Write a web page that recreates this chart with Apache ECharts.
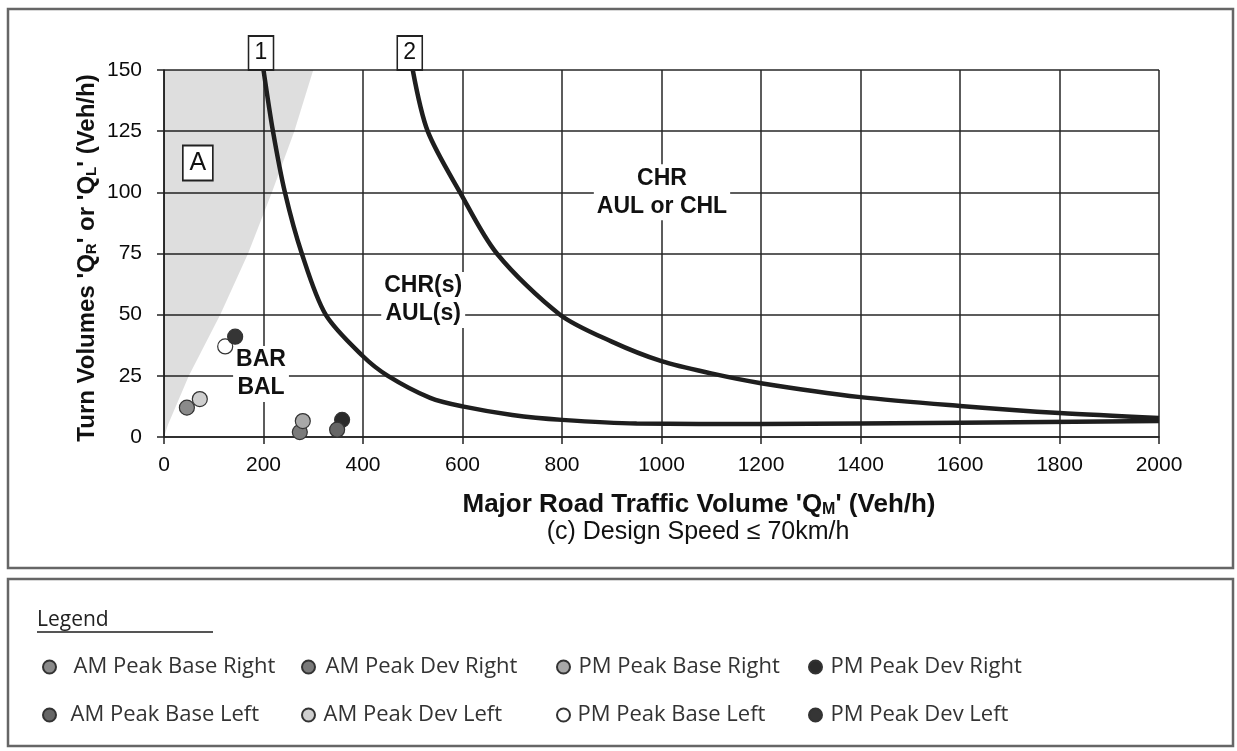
<!DOCTYPE html>
<html>
<head>
<meta charset="utf-8">
<script src="https://cdn.jsdelivr.net/npm/echarts@6/dist/echarts.min.js"></script>
<style>
html,body{margin:0;padding:0;background:#fff;}
#chart{width:1237px;height:751px;}
</style>
</head>
<body>
<div id="chart"></div>
<script>
// ---- data ----
const xTicks = [0, 200, 400, 600, 800, 1000, 1200, 1400, 1600, 1800, 2000];
const yTicks = [0, 25, 50, 75, 100, 125, 150];

// boundary of shaded zone "A" (x, y)
const shadeX = [0, 8, 50, 113, 169, 217, 262, 300, 0];
const shadeY = [0, 5, 25, 50, 75, 100, 125, 150, 150];

// curve 1 (CHR(s)/AUL(s) boundary)
const curve1X = [200, 219, 243, 277, 325, 400, 450, 535, 600, 700, 800, 950, 1200, 1600, 2000];
const curve1Y = [150, 125, 100, 75, 50, 33, 25, 16, 12.5, 9, 7, 5.5, 5.3, 5.8, 6.5];

// curve 2 (CHR / AUL or CHL boundary)
const curve2X = [500, 530, 595, 669, 796, 900, 1000, 1100, 1200, 1400, 1600, 1800, 2000];
const curve2Y = [150, 125, 100, 75, 50, 39, 31, 26, 22, 16.3, 12.7, 9.8, 7.8];

// observed points
const seriesNames = ['AM Peak Base Right', 'AM Peak Dev Right', 'PM Peak Base Right', 'PM Peak Dev Right',
                     'AM Peak Base Left', 'AM Peak Dev Left', 'PM Peak Base Left', 'PM Peak Dev Left'];
const pointX = [46, 273, 279, 358, 348, 72, 123, 143];
const pointY = [12, 2, 6.5, 7, 3, 15.5, 37, 41];
const pointColors = ['#8a8a8a', '#7a7a7a', '#a8a8a8', '#2b2b2b', '#666666', '#cfcfcf', '#ffffff', '#353535'];

// region annotations
const zoneLabels = ['BAR\nBAL', 'CHR(s)\nAUL(s)', 'CHR\nAUL or CHL'];
const zoneX = [195, 521, 1001];
const zoneY = [25.7, 56, 100];

const boxLabels = ['1', '2', 'A'];
const boxX = [195, 494, 68];
const boxY = [150, 150, 112];

// ---- chart ----
const chart = echarts.init(document.getElementById('chart'));
const FONT = '"Liberation Sans", Arial, sans-serif';

const pointSeries = seriesNames.map((n, i) => ({
  name: n,
  type: 'scatter',
  data: [[pointX[i], pointY[i]]],
  symbol: 'circle',
  symbolSize: 15,
  itemStyle: { color: pointColors[i], borderColor: '#333', borderWidth: 1.2, opacity: 1 },
  z: 5
}));

// legend positions (layout): [left, top, extra text gap]
const legPos = [[42, 656, 12.5], [301, 656, 5.5], [556, 656, 3.5], [808, 656, 3.5],
                [42, 704, 9.5], [301, 704, 3.5], [556, 704, 2.5], [808, 704, 3.5]];
const legends = seriesNames.map((n, i) => ({
  data: [n],
  left: legPos[i][0],
  top: legPos[i][1],
  padding: 0,
  itemWidth: 13,
  itemHeight: 13,
  selectedMode: false,
  textStyle: { fontFamily: '"Open Sans", sans-serif', fontSize: 22, color: '#333', padding: [0, 0, 0, legPos[i][2]] }
}));

const option = {
  animation: false,
  backgroundColor: '#fff',
  grid: { left: 164, right: 78, top: 70, bottom: 314, containLabel: false },
  legend: legends,
  xAxis: {
    type: 'value', min: 0, max: 2000, interval: 200,
    axisLine: { show: true, onZero: false, lineStyle: { color: '#222', width: 1.5 } },
    axisTick: { show: true, inside: false, length: 7, lineStyle: { color: '#222', width: 1.5 } },
    splitLine: { show: true, lineStyle: { color: '#262626', width: 1.5 } },
    axisLabel: { margin: 18, fontFamily: FONT, fontSize: 21, color: '#0a0a0a',
      formatter: v => xTicks.includes(v) ? String(v) : '' }
  },
  yAxis: {
    type: 'value', min: 0, max: 150, interval: 25,
    axisLine: { show: true, lineStyle: { color: '#222', width: 1.5 } },
    axisTick: { show: true, inside: false, length: 7, lineStyle: { color: '#222', width: 1.5 } },
    splitLine: { show: true, lineStyle: { color: '#262626', width: 1.5 } },
    axisLabel: { margin: 22, fontFamily: FONT, fontSize: 21, color: '#0a0a0a',
      formatter: v => yTicks.includes(v) ? String(v) : '' }
  },
  series: [
    {
      type: 'custom',
      name: 'zoneA',
      data: [[0, 0]],
      silent: true,
      z: 1,
      renderItem: function (params, api) {
        const pts = shadeX.map((x, i) => api.coord([x, shadeY[i]]));
        return { type: 'polygon', shape: { points: pts }, style: { fill: 'rgba(0,0,0,0.13)' } };
      }
    },
    {
      type: 'line', name: 'curve1',
      data: curve1X.map((x, i) => [x, curve1Y[i]]),
      smooth: 0.3, showSymbol: false, symbol: 'none',
      lineStyle: { color: '#1e1e1e', width: 4.5 }, z: 4, silent: true
    },
    {
      type: 'line', name: 'curve2',
      data: curve2X.map((x, i) => [x, curve2Y[i]]),
      smooth: 0.3, showSymbol: false, symbol: 'none',
      lineStyle: { color: '#1e1e1e', width: 4.5 }, z: 4, silent: true
    },
    {
      type: 'scatter', name: 'zones',
      data: zoneX.map((x, i) => ({ value: [x, zoneY[i]], label: { formatter: zoneLabels[i] } })),
      symbol: 'circle', symbolSize: 1, itemStyle: { color: 'rgba(255,255,255,0)', opacity: 1 },
      silent: true, z: 3,
      label: {
        show: true, position: 'inside', fontFamily: FONT, fontWeight: 'bold', fontSize: 23,
        color: '#111', opacity: 1, lineHeight: 28, align: 'center', verticalAlign: 'middle',
        backgroundColor: '#fff', padding: [0, 3, 0, 3]
      }
    },
    {
      type: 'scatter', name: 'boxes',
      clip: false,
      data: boxX.map((x, i) => ({
        value: [x, boxY[i]],
        symbolOffset: i < 2 ? [0, -17] : [0, 0],
        symbolSize: i < 2 ? [25, 34] : [30, 35],
        label: { formatter: boxLabels[i], fontSize: i < 2 ? 23 : 25 }
      })),
      symbol: 'rect', silent: true, z: 6,
      itemStyle: { color: '#fff', borderColor: '#222', borderWidth: 1.8, opacity: 1 },
      label: { show: true, position: 'inside', fontFamily: FONT, color: '#111' }
    }
  ].concat(pointSeries),
  graphic: [
    { type: 'rect', shape: { x: 8, y: 9, width: 1225, height: 559 },
      style: { fill: 'none', stroke: '#666', lineWidth: 2.5 }, z: 0 },
    { type: 'rect', shape: { x: 8, y: 579, width: 1225, height: 167 },
      style: { fill: 'none', stroke: '#666', lineWidth: 2.5 }, z: 0 },
    { type: 'text', x: 87, y: 258, rotation: Math.PI / 2,
      style: {
        text: "Turn Volumes 'Q{s|R}' or 'Q{s|L}' (Veh/h)",
        font: 'bold 24px "Liberation Sans", Arial, sans-serif', fill: '#111',
        align: 'center', verticalAlign: 'middle',
        rich: { s: { fontSize: 15, fontWeight: 'bold', fontFamily: FONT, verticalAlign: 'bottom', lineHeight: 14, fill: '#111' } }
      } },
    { type: 'text', x: 699, y: 505,
      style: {
        text: "Major Road Traffic Volume 'Q{s|M}' (Veh/h)",
        font: 'bold 26px "Liberation Sans", Arial, sans-serif', fill: '#111',
        align: 'center', verticalAlign: 'middle',
        rich: { s: { fontSize: 16, fontWeight: 'bold', fontFamily: FONT, verticalAlign: 'bottom', lineHeight: 15, fill: '#111' } }
      } },
    { type: 'text', x: 698, y: 532,
      style: { text: '(c) Design Speed \u2264 70km/h', font: '25px "Liberation Sans", Arial, sans-serif',
        fill: '#111', align: 'center', verticalAlign: 'middle' } },
    { type: 'text', x: 37, y: 620,
      style: { text: 'Legend', font: '21px "Open Sans", sans-serif', fill: '#222',
        align: 'left', verticalAlign: 'middle' } },
    { type: 'line', shape: { x1: 37, y1: 632, x2: 213, y2: 632 },
      style: { stroke: '#555', lineWidth: 2 } }
  ]
};
chart.setOption(option);
</script>
</body>
</html>
